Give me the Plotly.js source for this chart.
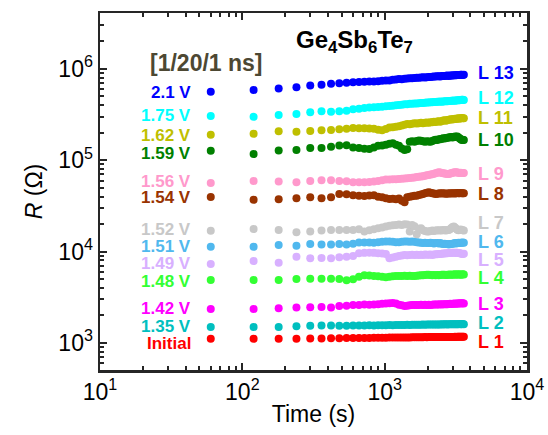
<!DOCTYPE html>
<html><head><meta charset="utf-8">
<script src="https://cdn.plot.ly/plotly-3.0.1.min.js"></script>
<style>body{margin:0;background:#fff}#c{width:548px;height:435px}</style>
</head><body><div id="c"></div>
<script>
const time_s = [60,120,180,240,300,360,420,480,540,600,660,720,780,840,900,960,1020,1080,1140,1200,1260,1320,1380,1440,1500,1560,1620,1680,1740,1800,1860,1920,1980,2040,2100,2160,2220,2280,2340,2400,2460,2520,2580,2640,2700,2760,2820,2880,2940,3000,3060,3120,3180,3240,3300,3360,3420,3480,3540,3600];

const R_L13 = [5.65e5,5.90e5,6.10e5,6.32e5,6.58e5,6.70e5,6.87e5,6.99e5,7.08e5,7.17e5,7.22e5,7.26e5,7.30e5,7.28e5,7.35e5,7.41e5,7.46e5,7.50e5,7.60e5,7.69e5,7.79e5,7.74e5,7.82e5,7.89e5,7.94e5,7.90e5,7.99e5,8.04e5,8.00e5,8.09e5,8.12e5,8.05e5,8.14e5,8.19e5,8.15e5,8.22e5,8.28e5,8.25e5,8.30e5,8.33e5,8.28e5,8.36e5,8.40e5,8.37e5,8.42e5,8.46e5,8.40e5,8.48e5,8.51e5,8.47e5,8.53e5,8.56e5,8.52e5,8.58e5,8.60e5,8.57e5,8.62e5,8.64e5,8.60e5,8.62e5];
const R_L12 = [3.06e5,2.99e5,3.14e5,3.22e5,3.36e5,3.45e5,3.41e5,3.45e5,3.48e5,3.63e5,3.68e5,3.75e5,3.78e5,3.80e5,3.84e5,3.87e5,3.90e5,3.93e5,3.97e5,4.00e5,4.04e5,4.06e5,4.10e5,4.12e5,4.15e5,4.17e5,4.18e5,4.20e5,4.22e5,4.24e5,4.25e5,4.27e5,4.29e5,4.30e5,4.32e5,4.33e5,4.35e5,4.34e5,4.37e5,4.38e5,4.40e5,4.39e5,4.41e5,4.42e5,4.44e5,4.43e5,4.45e5,4.47e5,4.48e5,4.49e5,4.51e5,4.50e5,4.52e5,4.54e5,4.55e5,4.56e5,4.58e5,4.59e5,4.60e5,4.58e5];
const R_L11 = [1.90e5,1.95e5,2.08e5,2.06e5,2.10e5,2.14e5,2.15e5,2.19e5,2.21e5,2.26e5,2.25e5,2.25e5,2.23e5,2.21e5,2.16e5,2.14e5,2.20e5,2.28e5,2.30e5,2.33e5,2.36e5,2.40e5,2.45e5,2.50e5,2.48e5,2.52e5,2.55e5,2.53e5,2.55e5,2.57e5,2.55e5,2.58e5,2.60e5,2.58e5,2.61e5,2.61e5,2.64e5,2.62e5,2.66e5,2.68e5,2.65e5,2.70e5,2.72e5,2.74e5,2.71e5,2.76e5,2.78e5,2.80e5,2.82e5,2.80e5,2.84e5,2.86e5,2.83e5,2.87e5,2.89e5,2.86e5,2.89e5,2.90e5,2.88e5,2.89e5];
const R_L10 = [1.27e5,1.17e5,1.28e5,1.30e5,1.36e5,1.36e5,1.41e5,1.45e5,1.46e5,1.38e5,1.36e5,1.34e5,1.33e5,1.38e5,1.44e5,1.45e5,1.48e5,1.52e5,1.54e5,1.48e5,1.44e5,1.35e5,1.30e5,1.32e5,1.60e5,1.62e5,1.60e5,1.63e5,1.65e5,1.64e5,1.62e5,1.60e5,1.62e5,1.61e5,1.60e5,1.63e5,1.66e5,1.68e5,1.67e5,1.70e5,1.70e5,1.72e5,1.74e5,1.73e5,1.75e5,1.77e5,1.78e5,1.79e5,1.80e5,1.78e5,1.80e5,1.82e5,1.81e5,1.82e5,1.78e5,1.74e5,1.70e5,1.67e5,1.68e5,1.67e5];
const R_L9 = [5.65e4,5.95e4,5.85e4,5.76e4,5.95e4,6.05e4,6.05e4,5.95e4,5.90e4,5.76e4,5.74e4,5.76e4,5.80e4,5.85e4,5.95e4,6.05e4,6.15e4,6.18e4,6.20e4,6.22e4,6.26e4,6.28e4,6.32e4,6.36e4,6.40e4,6.46e4,6.50e4,6.55e4,6.60e4,6.63e4,6.70e4,6.78e4,6.85e4,6.92e4,6.98e4,7.04e4,7.12e4,7.22e4,7.32e4,7.41e4,7.35e4,7.28e4,7.20e4,7.15e4,7.12e4,7.10e4,7.10e4,7.15e4,7.22e4,7.30e4,7.36e4,7.41e4,7.38e4,7.35e4,7.30e4,7.28e4,7.30e4,7.28e4,7.28e4,7.25e4];
const R_L8 = [3.97e4,3.69e4,3.75e4,3.85e4,3.94e4,3.85e4,3.94e4,4.29e4,4.25e4,4.15e4,4.10e4,4.07e4,4.12e4,4.15e4,4.00e4,3.94e4,3.85e4,3.78e4,3.80e4,3.75e4,3.82e4,3.60e4,3.48e4,3.95e4,4.00e4,4.05e4,4.10e4,4.08e4,4.18e4,4.22e4,4.28e4,4.35e4,4.40e4,4.47e4,4.40e4,4.35e4,4.32e4,4.28e4,4.30e4,4.32e4,4.35e4,4.32e4,4.35e4,4.33e4,4.30e4,4.32e4,4.32e4,4.35e4,4.33e4,4.36e4,4.35e4,4.33e4,4.36e4,4.38e4,4.35e4,4.36e4,4.38e4,4.36e4,4.36e4,4.36e4];
const R_L7 = [1.69e4,1.77e4,1.73e4,1.63e4,1.66e4,1.70e4,1.73e4,1.73e4,1.73e4,1.73e4,1.76e4,1.66e4,1.72e4,1.76e4,1.80e4,1.84e4,1.88e4,1.92e4,1.94e4,1.96e4,1.98e4,1.96e4,2.00e4,1.98e4,1.66e4,1.96e4,1.90e4,1.55e4,1.78e4,1.80e4,1.72e4,1.68e4,1.66e4,1.66e4,1.68e4,1.70e4,1.68e4,1.70e4,1.72e4,1.70e4,1.72e4,1.70e4,1.73e4,1.72e4,1.70e4,1.73e4,1.73e4,1.76e4,1.82e4,1.86e4,1.88e4,1.84e4,1.78e4,1.74e4,1.72e4,1.73e4,1.75e4,1.73e4,1.72e4,1.70e4];
const R_L6 = [1.13e4,1.13e4,1.18e4,1.16e4,1.21e4,1.20e4,1.20e4,1.21e4,1.20e4,1.22e4,1.26e4,1.26e4,1.26e4,1.25e4,1.27e4,1.28e4,1.29e4,1.29e4,1.28e4,1.27e4,1.27e4,1.28e4,1.29e4,1.29e4,1.28e4,1.29e4,1.28e4,1.27e4,1.26e4,1.25e4,1.24e4,1.25e4,1.24e4,1.24e4,1.25e4,1.24e4,1.23e4,1.24e4,1.24e4,1.23e4,1.24e4,1.22e4,1.21e4,1.22e4,1.21e4,1.21e4,1.20e4,1.21e4,1.21e4,1.22e4,1.23e4,1.24e4,1.23e4,1.24e4,1.25e4,1.24e4,1.25e4,1.25e4,1.26e4,1.25e4];
const R_L5 = [7.33e3,7.91e3,7.58e3,8.81e3,8.47e3,8.53e3,8.47e3,8.68e3,8.81e3,8.97e3,9.60e3,9.70e3,9.75e3,9.70e3,9.60e3,9.55e3,9.44e3,8.47e3,8.60e3,8.81e3,8.95e3,9.05e3,9.20e3,9.15e3,9.20e3,9.25e3,9.18e3,9.22e3,9.20e3,9.25e3,9.20e3,9.28e3,9.22e3,9.25e3,9.30e3,9.20e3,9.30e3,9.35e3,9.38e3,9.42e3,9.45e3,9.50e3,9.52e3,9.55e3,9.60e3,9.62e3,9.65e3,9.68e3,9.70e3,9.72e3,9.75e3,9.75e3,9.72e3,9.70e3,9.68e3,9.62e3,9.55e3,9.50e3,9.44e3,9.48e3];
const R_L4 = [4.90e3,4.90e3,4.90e3,5.02e3,5.06e3,5.06e3,5.06e3,5.02e3,4.86e3,4.99e3,5.32e3,5.51e3,5.48e3,5.42e3,5.38e3,5.30e3,5.24e3,5.30e3,5.36e3,5.42e3,5.42e3,5.40e3,5.44e3,5.42e3,5.46e3,5.42e3,5.40e3,5.46e3,5.48e3,5.50e3,5.52e3,5.55e3,5.58e3,5.60e3,5.56e3,5.52e3,5.55e3,5.52e3,5.55e3,5.51e3,5.55e3,5.58e3,5.60e3,5.58e3,5.56e3,5.60e3,5.60e3,5.62e3,5.58e3,5.60e3,5.62e3,5.64e3,5.60e3,5.62e3,5.64e3,5.62e3,5.60e3,5.62e3,5.64e3,5.62e3];
const R_L3 = [2.36e3,2.36e3,2.40e3,2.44e3,2.46e3,2.48e3,2.44e3,2.54e3,2.56e3,2.61e3,2.60e3,2.63e3,2.62e3,2.64e3,2.65e3,2.68e3,2.70e3,2.72e3,2.74e3,2.70e3,2.62e3,2.58e3,2.54e3,2.56e3,2.58e3,2.60e3,2.61e3,2.60e3,2.61e3,2.62e3,2.61e3,2.62e3,2.61e3,2.62e3,2.61e3,2.62e3,2.63e3,2.64e3,2.63e3,2.64e3,2.65e3,2.64e3,2.65e3,2.66e3,2.65e3,2.66e3,2.67e3,2.68e3,2.67e3,2.68e3,2.69e3,2.70e3,2.69e3,2.70e3,2.71e3,2.72e3,2.71e3,2.72e3,2.72e3,2.71e3];
const R_L2 = [1.50e3,1.50e3,1.50e3,1.52e3,1.54e3,1.55e3,1.55e3,1.54e3,1.54e3,1.55e3,1.55e3,1.55e3,1.56e3,1.55e3,1.56e3,1.56e3,1.56e3,1.57e3,1.56e3,1.57e3,1.57e3,1.57e3,1.57e3,1.58e3,1.57e3,1.58e3,1.58e3,1.58e3,1.58e3,1.58e3,1.59e3,1.58e3,1.59e3,1.59e3,1.59e3,1.59e3,1.59e3,1.59e3,1.59e3,1.59e3,1.59e3,1.60e3,1.59e3,1.60e3,1.60e3,1.59e3,1.60e3,1.60e3,1.60e3,1.60e3,1.60e3,1.60e3,1.60e3,1.60e3,1.60e3,1.61e3,1.60e3,1.60e3,1.61e3,1.60e3];
const R_L1 = [1.11e3,1.11e3,1.115e3,1.115e3,1.12e3,1.12e3,1.125e3,1.125e3,1.13e3,1.13e3,1.13e3,1.135e3,1.135e3,1.14e3,1.14e3,1.14e3,1.14e3,1.145e3,1.145e3,1.145e3,1.15e3,1.15e3,1.15e3,1.15e3,1.15e3,1.155e3,1.155e3,1.155e3,1.155e3,1.155e3,1.155e3,1.16e3,1.155e3,1.16e3,1.16e3,1.16e3,1.16e3,1.16e3,1.16e3,1.16e3,1.16e3,1.16e3,1.165e3,1.16e3,1.165e3,1.165e3,1.165e3,1.165e3,1.165e3,1.165e3,1.165e3,1.17e3,1.165e3,1.17e3,1.17e3,1.17e3,1.17e3,1.17e3,1.17e3,1.17e3];

const seriesR = [R_L1,R_L2,R_L3,R_L4,R_L5,R_L6,R_L7,R_L8,R_L9,R_L10,R_L11,R_L12,R_L13];
const lineNames = ['L 1','L 2','L 3','L 4','L 5','L 6','L 7','L 8','L 9','L 10','L 11','L 12','L 13'];
const voltNames = ['Initial','1.35 V','1.42 V','1.48 V','1.49 V','1.51 V','1.52 V','1.54 V','1.56 V','1.59 V','1.62 V','1.75 V','2.1 V'];
const colors = ['#ff0000','#00bfbf','#ff00ff','#33ff33','#d8b0ff','#50b8ee','#c8c8c8','#993300','#ff99cc','#008000','#bfbf00','#00ffff','#0000ff'];
const xTickVals = [10,100,1000,10000];
const xTickText = ['10<sup>1</sup>','10<sup>2</sup>','10<sup>3</sup>','10<sup>4</sup>'];
const yTickVals = [1e3,1e4,1e5,1e6];
const yTickText = ['10<sup>3</sup>','10<sup>4</sup>','10<sup>5</sup>','10<sup>6</sup>'];

// label placement (pixel centers in the page)
const voltLabelY = [343,326,308,281,263,246,229,198,181,153,135,116,92];
const lineLabelY = [342,323,304,278,260,242,223,194,174,140,118,98,73];
const PL=100, PR=527, PT=13, PB=370;
const px = x => (x-PL)/(PR-PL);
const py = y => (PB-y)/(PB-PT);

function minorVals(lo, hi){ const v=[]; for(let e=lo;e<hi;e++){ for(let d=2;d<=9;d++) v.push(d*Math.pow(10,e)); } return v; }

const font = 'Arial, "Liberation Sans", Helvetica, sans-serif';
const traces = seriesR.map((r,i)=>({
  x: time_s, y: r, type:'scatter', mode:'markers',
  marker:{size:8, color:colors[i]}, hoverinfo:'skip', showlegend:false
}));

const annotations = [];
seriesR.forEach((r,i)=>{
  annotations.push({xref:'paper',yref:'paper',x:px(193),y:py(voltLabelY[i]),xanchor:'right',yanchor:'middle',
    text:'<b>'+voltNames[i]+'</b>',showarrow:false,font:{family:font,size:17,color:colors[i]}});
  annotations.push({xref:'paper',yref:'paper',x:px(476),y:py(lineLabelY[i]),xanchor:'left',yanchor:'middle',
    text:'<b>'+lineNames[i]+'</b>',showarrow:false,font:{family:font,size:18,color:colors[i]}});
});
annotations.push({xref:'paper',yref:'paper',x:px(354),y:py(41),xanchor:'center',yanchor:'middle',
  text:'<b>Ge<sub>4</sub>Sb<sub>6</sub>Te<sub>7</sub></b>',showarrow:false,font:{family:font,size:24,color:'#000'}});
annotations.push({xref:'paper',yref:'paper',x:px(206),y:py(63),xanchor:'center',yanchor:'middle',
  text:'<b>[1/20/1 ns]</b>',showarrow:false,font:{family:font,size:23,color:'#4d4833'}});

const axisCommon = {
  type:'log', showgrid:false, zeroline:false, showline:true, linecolor:'#262626', linewidth:2.5,
  mirror:'allticks', ticks:'inside', ticklen:7, tickwidth:2, tickcolor:'#262626',
  tickmode:'array', tickfont:{family:font,size:23,color:'#000'}
};

const layout = {
  width:548, height:435, margin:{l:PL, r:548-PR, t:PT, b:435-PB},
  paper_bgcolor:'#fff', plot_bgcolor:'#fff', showlegend:false,
  font:{family:font},
  xaxis: Object.assign({}, axisCommon, {
    range:[1,4], tickvals:xTickVals, ticktext:xTickText,
    minor:{tickmode:'array', tickvals:minorVals(1,4), ticks:'inside', ticklen:4, tickwidth:2, tickcolor:'#262626', showgrid:false},
    title:{text:'Time (s)', font:{family:font,size:23,color:'#000'}, standoff:2}
  }),
  yaxis: Object.assign({}, axisCommon, {
    range:[2.704,6.613], tickvals:yTickVals, ticktext:yTickText,
    minor:{tickmode:'array', tickvals:minorVals(2,7), ticks:'inside', ticklen:4, tickwidth:2, tickcolor:'#262626', showgrid:false},
    title:{text:'<i>R</i> (Ω)', font:{family:font,size:23,color:'#000'}, standoff:10}
  }),
  annotations: annotations
};

Plotly.newPlot('c', traces, layout, {displayModeBar:false, staticPlot:true});
</script></body></html>
